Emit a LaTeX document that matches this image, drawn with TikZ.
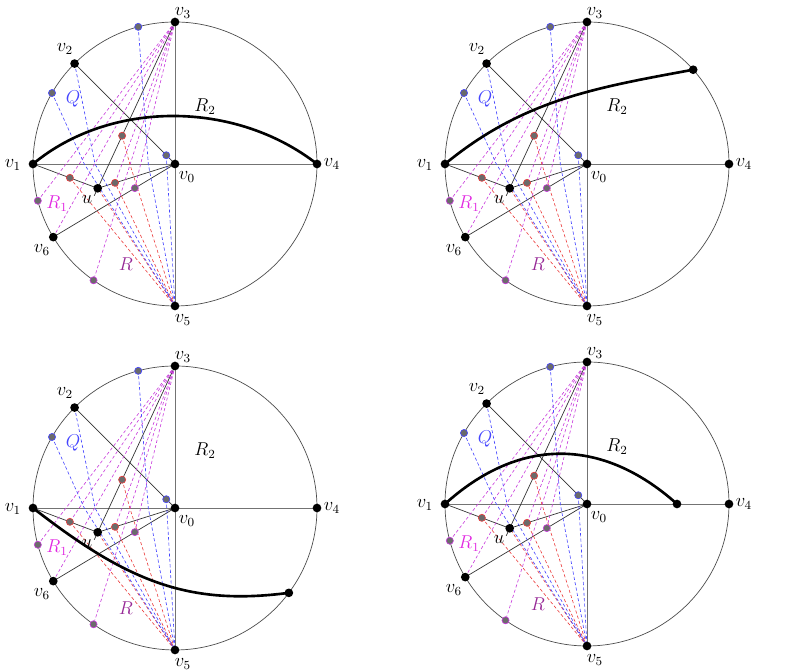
\documentclass[tikz,border=0pt]{standalone}
\usetikzlibrary{calc}
\definecolor{qblue}{RGB}{70,70,255}
\definecolor{rred}{RGB}{235,60,60}
\definecolor{mmag}{RGB}{200,60,220}
\definecolor{rpurp}{RGB}{150,40,150}
\definecolor{r1mag}{RGB}{225,40,225}
\begin{document}
\begin{tikzpicture}[x=0.645pt,y=0.645pt,
  every node/.style={font=\fontsize{11.5}{13}\selectfont},
  circ/.style={draw=black!70, line width=0.45pt},
  axis/.style={draw=black!55, line width=0.5pt},
  seg/.style={draw=black!80, line width=0.45pt},
  bdash/.style={draw=qblue, line width=0.4pt, dash pattern=on 2pt off 1.5pt},
  rdash/.style={draw=rred, line width=0.4pt, dash pattern=on 2pt off 1.5pt},
  mdash/.style={draw=mmag, line width=0.4pt, dash pattern=on 2pt off 1.5pt},
  vtx/.style={circle, fill=black, inner sep=0pt, minimum size=5.6pt},
  gb/.style={circle, fill=black!58, draw=qblue, line width=0.4pt, inner sep=0pt, minimum size=4.6pt},
  gr/.style={circle, fill=black!58, draw=rred, line width=0.4pt, inner sep=0pt, minimum size=4.6pt},
  gm/.style={circle, fill=black!58, draw=mmag, line width=0.4pt, inner sep=0pt, minimum size=4.6pt},
  thick curve/.style={draw=black, line width=1.7pt},
  lbl/.style={inner sep=0pt}
]
\useasboundingbox (0,0) rectangle (796,672);
\newcommand{\basepanel}{%
  \coordinate (v0) at (0,0);
  \coordinate (v1) at (180:142);
  \coordinate (v2) at (135:142);
  \coordinate (v3) at (90:142);
  \coordinate (v4) at (0:142);
  \coordinate (v5) at (270:142);
  \coordinate (v6) at (211:142);
  \coordinate (u) at (-77.3,-24.3);
  \coordinate (b105) at (105:142);
  \coordinate (b150) at (150:142);
  \coordinate (m195) at (195:142);
  \coordinate (m235) at (235:142);
  \coordinate (bin) at ($(v0)!0.087!(v2)$);
  \coordinate (ra) at ($(v1)!0.57!(u)$);
  \coordinate (rb) at ($(u)!0.224!(v0)$);
  \coordinate (rc) at ($(v3)!0.684!(u)$);
  \coordinate (pp) at ($(v0)!0.33!(v6)$);
  \coordinate (ue) at ($(v3)!1.045!(u)$);
  \coordinate (h1) at (-26.7,0);
  \coordinate (h2) at (-80,0);
  \coordinate (h3) at (-90.7,0);
  \coordinate (h4) at (-45.2,0);
  \draw[circ] (v0) circle (142);
  \draw[axis] (v1) -- (v4);
  \draw[axis] (v3) -- (v5);
  \draw[seg] (v2) -- (v0);
  \draw[seg] (v1) -- (u) -- (v0);
  \draw[seg] (v3) -- (ue);
  \draw[seg] (v6) -- (v0);
  % magenta dashed from v3
  \foreach \t in {v6,m195,m235,pp,ra,rb} \draw[mdash] (v3) -- (\t);
  % red dashed to v5
  \foreach \t in {ra,rb,u} \draw[rdash] (v5) -- (\t);
  \draw[rdash] (rc) -- (h4) -- (v5);
  % blue dashed
  \draw[bdash] (b105) -- (h1) -- (v5);
  \draw[bdash] (v2) -- (h2) -- (v5);
  \draw[bdash] (b150) -- (h3) -- (v5);
  \draw[bdash] (bin) -- (v5);
  % labels
  \node[lbl] at ($(v0)+(12,-13)$) {$v_0$};
  \node[lbl] at ($(v0)+(-162,-1)$) {$v_1$};
  \node[lbl] at ($(v0)+(-110,115)$) {$v_2$};
  \node[lbl] at ($(v0)+(8,151)$) {$v_3$};
  \node[lbl] at ($(v0)+(157,0)$) {$v_4$};
  \node[lbl] at ($(v0)+(8,-156)$) {$v_5$};
  \node[lbl] at ($(v0)+(-133,-86)$) {$v_6$};
  \node[lbl] at ($(v0)+(-88,-36)$) {$u$};
  \node[lbl, text=qblue] at ($(v0)+(-102,65)$) {$Q$};
  \node[lbl, text=r1mag] at ($(v0)+(-118,-40)$) {$R_1$};
  \node[lbl, text=rpurp] at ($(v0)+(-49,-100)$) {$R$};
  \node[lbl] at ($(v0)+(30,57)$) {$R_2$};
}
\newcommand{\panelpoints}{%
  \node[gb] at (b105) {}; \node[gb] at (b150) {}; \node[gb] at (bin) {};
  \node[gm] at (m195) {}; \node[gm] at (m235) {}; \node[gm] at (pp) {};
  \node[gr] at (ra) {}; \node[gr] at (rb) {}; \node[gr] at (rc) {};
  \foreach \p in {v0,v1,v2,v3,v4,v5,v6,u} \node[vtx] at (\p) {};
}
% Panel 1
\begin{scope}[shift={(175,508)}]
  \basepanel
  \draw[thick curve] (v1) .. controls ($(v0)+(-65,64)$) and ($(v0)+(60,64)$) .. (v4);
  \panelpoints
\end{scope}
% Panel 2
\begin{scope}[shift={(587,508)}]
  \basepanel
  \coordinate (e2) at (41.6:142);
  \draw[thick curve] (v1) .. controls ($(v0)+(-64,64)$) and ($(v0)+(7,76)$) .. (e2);
  \panelpoints
  \node[vtx] at (e2) {};
\end{scope}
% Panel 3
\begin{scope}[shift={(175,164)}]
  \basepanel
  \coordinate (e3) at (-36.7:142);
  \draw[thick curve] (v1) .. controls ($(v0)+(-47,-74)$) and ($(v0)+(14,-98)$) .. (e3);
  \panelpoints
  \node[vtx] at (e3) {};
\end{scope}
% Panel 4
\begin{scope}[shift={(587,168)}]
  \basepanel
  \coordinate (e4) at (90,0);
  \draw[thick curve] (v1) .. controls ($(v0)+(-68,67)$) and ($(v0)+(15,67)$) .. (e4);
  \panelpoints
  \node[vtx] at (e4) {};
\end{scope}
\end{tikzpicture}
\end{document}
